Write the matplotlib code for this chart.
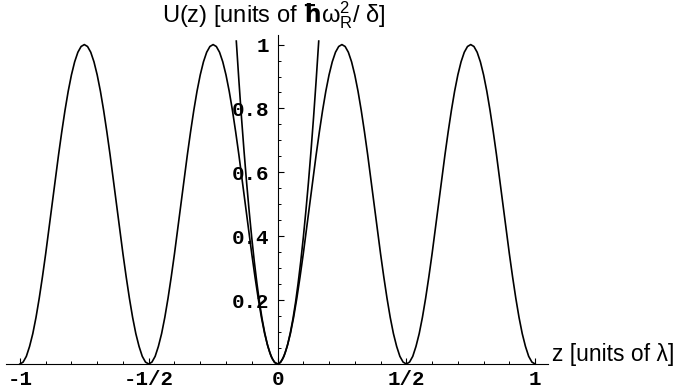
import numpy as np
import matplotlib
matplotlib.use('Agg')
import matplotlib.pyplot as plt
from matplotlib.ticker import MultipleLocator

plt.rcParams['font.family'] = ['Liberation Sans', 'DejaVu Sans']
plt.rcParams['mathtext.fontset'] = 'custom'
plt.rcParams['mathtext.rm'] = 'Liberation Sans'
plt.rcParams['mathtext.it'] = 'Liberation Sans'
plt.rcParams['mathtext.bf'] = 'DejaVu Sans:bold'

# potential U(z), sampled every 1/80 lambda from -1 to 1
z = np.linspace(-1, 1, 161)
U = [0.000, 0.006, 0.024, 0.055, 0.095, 0.146, 0.206, 0.273, 0.345, 0.422,
     0.500, 0.578, 0.655, 0.727, 0.794, 0.854, 0.905, 0.946, 0.976, 0.994,
     1.000, 0.994, 0.976, 0.946, 0.905, 0.854, 0.794, 0.727, 0.655, 0.578,
     0.500, 0.422, 0.345, 0.273, 0.206, 0.146, 0.095, 0.055, 0.024, 0.006,
     0.000, 0.006, 0.024, 0.055, 0.095, 0.146, 0.206, 0.273, 0.345, 0.422,
     0.500, 0.578, 0.655, 0.727, 0.794, 0.854, 0.905, 0.946, 0.976, 0.994,
     1.000, 0.994, 0.976, 0.946, 0.905, 0.854, 0.794, 0.727, 0.655, 0.578,
     0.500, 0.422, 0.345, 0.273, 0.206, 0.146, 0.095, 0.055, 0.024, 0.006,
     0.000, 0.006, 0.024, 0.055, 0.095, 0.146, 0.206, 0.273, 0.345, 0.422,
     0.500, 0.578, 0.655, 0.727, 0.794, 0.854, 0.905, 0.946, 0.976, 0.994,
     1.000, 0.994, 0.976, 0.946, 0.905, 0.854, 0.794, 0.727, 0.655, 0.578,
     0.500, 0.422, 0.345, 0.273, 0.206, 0.146, 0.095, 0.055, 0.024, 0.006,
     0.000, 0.006, 0.024, 0.055, 0.095, 0.146, 0.206, 0.273, 0.345, 0.422,
     0.500, 0.578, 0.655, 0.727, 0.794, 0.854, 0.905, 0.946, 0.976, 0.994,
     1.000, 0.994, 0.976, 0.946, 0.905, 0.854, 0.794, 0.727, 0.655, 0.578,
     0.500, 0.422, 0.345, 0.273, 0.206, 0.146, 0.095, 0.055, 0.024, 0.006,
     0.000]

# harmonic approximation near the minimum at z = 0
z_harm = np.linspace(-0.16, 0.16, 33)
U_harm = [1.011, 0.888, 0.773, 0.667, 0.568, 0.478, 0.395, 0.320, 0.253, 0.193,
          0.142, 0.099, 0.063, 0.036, 0.016, 0.004, 0.000, 0.004, 0.016, 0.036,
          0.063, 0.099, 0.142, 0.193, 0.253, 0.320, 0.395, 0.478, 0.568, 0.667,
          0.773, 0.888, 1.011]

xticks = [-1, -0.5, 0, 0.5, 1]
xticklabels = ['-1', '-1/2', '0', '1/2', '1']
yticks = [0.2, 0.4, 0.6, 0.8, 1.0]
yticklabels = ['0.2', '0.4', '0.6', '0.8', '1']

fig = plt.figure(figsize=(6.83, 3.89), dpi=100)
ax = fig.add_axes([6 / 683, 25 / 389, 542 / 683, 329 / 389])

ax.plot(z, U, color='black', lw=1.2, clip_on=False)
ax.plot(z_harm, U_harm, color='black', lw=1.2, clip_on=False)

ax.set_xlim(-1.054, 1.05)
ax.set_ylim(0, 1.03)

for s in ['top', 'right']:
    ax.spines[s].set_visible(False)
ax.spines['left'].set_position(('data', 0))
ax.spines['bottom'].set_position(('data', 0))
ax.spines['left'].set_linewidth(0.8)
ax.spines['bottom'].set_linewidth(0.8)

ax.set_xticks(xticks)
ax.set_xticklabels(xticklabels)
ax.set_yticks(yticks)
ax.set_yticklabels(yticklabels)
ax.xaxis.set_minor_locator(MultipleLocator(0.1))
ax.yaxis.set_minor_locator(MultipleLocator(0.05))
ax.tick_params(which='major', direction='in', length=4.5, width=0.8)
ax.tick_params(which='minor', direction='in', length=2.5, width=0.7)
ax.tick_params(axis='x', which='major', pad=4)
ax.tick_params(axis='y', which='major', pad=6)
for lab in ax.get_xticklabels() + ax.get_yticklabels():
    lab.set_fontfamily('Liberation Mono')
    lab.set_fontweight('bold')
    lab.set_fontsize(15)

fig.text(274 / 683, 1 - 15 / 389, r'U(z) [units of $\mathbf{\hbar}$ω$^2_\mathrm{R}$/ δ]',
         ha='center', va='center', fontsize=17)
fig.text(552 / 683, 1 - 355 / 389, 'z [units of λ]',
         ha='left', va='center', fontsize=16.5)

fig.savefig('out.png', dpi=100)
